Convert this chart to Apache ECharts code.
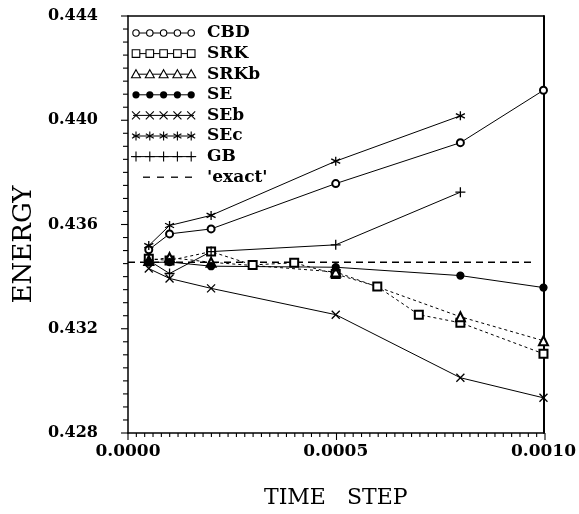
<!DOCTYPE html>
<html>
<head>
<meta charset="utf-8">
<script src="https://cdn.jsdelivr.net/npm/echarts@6/dist/echarts.min.js"></script>
<style>
  html, body { margin: 0; padding: 0; background: #fff; }
  #chart_div { width: 579px; height: 514px; }
</style>
</head>
<body>
<div id="chart_div"></div>
<script>
// 时间步长
var stepMain = [0.00005, 0.0001, 0.0002, 0.0005, 0.0008, 0.001]
var stepShort = [0.00005, 0.0001, 0.0002, 0.0005, 0.0008]
var stepSRK = [0.00005, 0.0001, 0.0002, 0.0003, 0.0004, 0.0005, 0.0006, 0.0007, 0.0008, 0.001]
var stepExact = [0, 0.00098]

// 能量数值
var cbd = [0.43503, 0.43564, 0.43583, 0.43757, 0.43914, 0.44115]
var srk = [0.43469, 0.43462, 0.43496, 0.43445, 0.43453, 0.43410, 0.43362, 0.43254, 0.43223, 0.43104]
var srkb = [0.43462, 0.43473, 0.43455, 0.43418, 0.43246, 0.43154]
var se = [0.43454, 0.43456, 0.43440, 0.43436, 0.43404, 0.43358]
var seb = [0.43431, 0.43393, 0.43355, 0.43254, 0.43012, 0.42935]
var sec = [0.43519, 0.43596, 0.43635, 0.43843, 0.44017]
var gb = [0.43462, 0.43412, 0.43496, 0.43522, 0.43724]
var exact = [0.43455, 0.43455]

var names = ['CBD', 'SRK', 'SRKb', 'SE', 'SEb', 'SEc', 'GB', "'exact'"]

var serif = 'DejaVu Serif'
var pathCross = 'path://M0,0L10,10M10,0L0,10'
var pathStar = 'path://M5,0L5,10M0.7,2.5L9.3,7.5M9.3,2.5L0.7,7.5'
var pathPlus = 'path://M5,0L5,10M0,5L10,5'

// 绘图区与坐标范围
var W = 579, H = 514
var gridBox = { left: 128, top: 16, right: 34, bottom: 81 }
var xMin = 0, xMax = 0.001
var yMin = 0.428, yMax = 0.444

function pairs(xs, ys) {
  let result = []
  for (let i = 0; i < xs.length; i++) {
    result.push([xs[i], ys[i]])
  }
  return result
}

function mkSeries(name, xs, ys, symbol, size, dash) {
  return {
    name: name,
    type: 'line',
    data: pairs(xs, ys),
    symbol: symbol,
    symbolSize: size,
    showSymbol: symbol != 'none',
    lineStyle: { color: '#000', width: 1, type: dash || 'solid' },
    itemStyle: { color: '#000', borderColor: '#000', borderWidth: 1.3 },
    silent: true,
    animation: false,
    z: 3
  }
}

// 图例 (手绘: 线 + 五个标记)
var legendKinds = ['circle', 'rect', 'triangle', 'dot', 'cross', 'star', 'plus', 'dash']

function legendMarker(kind, cx, cy) {
  let st = { fill: '#fff', stroke: '#000', lineWidth: 1.1 }
  let ln = { stroke: '#000', lineWidth: 1.1 }
  if (kind == 'circle') return [{ type: 'circle', shape: { cx: cx, cy: cy, r: 3.2 }, style: st }]
  if (kind == 'dot') return [{ type: 'circle', shape: { cx: cx, cy: cy, r: 3.6 }, style: { fill: '#000' } }]
  if (kind == 'rect') return [{ type: 'rect', shape: { x: cx - 3.8, y: cy - 3.8, width: 7.6, height: 7.6 }, style: st }]
  if (kind == 'triangle') return [{ type: 'polygon', shape: { points: [[cx, cy - 4.5], [cx + 4.5, cy + 3.5], [cx - 4.5, cy + 3.5]] }, style: st }]
  if (kind == 'cross') return [
    { type: 'line', shape: { x1: cx - 4, y1: cy - 4, x2: cx + 4, y2: cy + 4 }, style: ln },
    { type: 'line', shape: { x1: cx + 4, y1: cy - 4, x2: cx - 4, y2: cy + 4 }, style: ln }
  ]
  if (kind == 'star') return [
    { type: 'line', shape: { x1: cx, y1: cy - 4.5, x2: cx, y2: cy + 4.5 }, style: ln },
    { type: 'line', shape: { x1: cx - 4, y1: cy - 2.3, x2: cx + 4, y2: cy + 2.3 }, style: ln },
    { type: 'line', shape: { x1: cx + 4, y1: cy - 2.3, x2: cx - 4, y2: cy + 2.3 }, style: ln }
  ]
  if (kind == 'plus') return [
    { type: 'line', shape: { x1: cx, y1: cy - 5, x2: cx, y2: cy + 5 }, style: ln },
    { type: 'line', shape: { x1: cx - 5, y1: cy, x2: cx + 5, y2: cy }, style: ln }
  ]
  return []
}

function buildLegend() {
  let els = []
  for (let i = 0; i < names.length; i++) {
    let cy = 33 + 20.6 * i
    let kind = legendKinds[i]
    if (kind == 'dash') {
      els.push({ type: 'line', shape: { x1: 143, y1: cy, x2: 195, y2: cy }, style: { stroke: '#000', lineWidth: 1.3, lineDash: [7, 7] } })
    } else {
      els.push({ type: 'line', shape: { x1: 133, y1: cy, x2: 194, y2: cy }, style: { stroke: '#000', lineWidth: 1 } })
      for (let k = 0; k < 5; k++) {
        els = els.concat(legendMarker(kind, 136 + 13.8 * k, cy))
      }
    }
    els.push({
      type: 'text',
      x: 207,
      y: cy,
      style: { text: names[i], font: 'bold 17px "' + serif + '"', fill: '#000', verticalAlign: 'middle' }
    })
  }
  return els
}

// 刻度线 (x 每 0.00002, y 每 0.0005), 按坐标范围换算到绘图区
function buildTicks() {
  let els = []
  let left = gridBox.left
  let bottom = H - gridBox.bottom
  let w = W - gridBox.left - gridBox.right
  let h = H - gridBox.top - gridBox.bottom
  for (let i = 0; i <= 50; i++) {
    let px = left + (i * 0.00002 - xMin) / (xMax - xMin) * w
    let len = i % 25 == 0 ? 7 : 4
    els.push({ type: 'line', z: 50, silent: true, shape: { x1: px, y1: bottom, x2: px, y2: bottom + len }, style: { stroke: '#000', lineWidth: 1.1 } })
  }
  for (let i = 0; i <= 32; i++) {
    let py = bottom - (i * 0.0005) / (yMax - yMin) * h
    let len = i % 8 == 0 ? 7 : 5
    els.push({ type: 'line', z: 50, silent: true, shape: { x1: left, y1: py, x2: left - len, y2: py }, style: { stroke: '#000', lineWidth: 1.1 } })
  }
  return els
}

// 边框用的副坐标轴
function frameAxis(pos, min, max) {
  return {
    type: 'value', position: pos, min: min, max: max,
    axisLine: { show: true, onZero: false, lineStyle: { color: '#000', width: pos == 'right' ? 2 : 1.5 } },
    axisTick: { show: false }, axisLabel: { show: false }, splitLine: { show: false }
  }
}

var option = {
  backgroundColor: '#fff',
  animation: false,
  grid: gridBox,
  xAxis: [{
    type: 'value',
    position: 'bottom',
    min: xMin, max: xMax, interval: 0.0005,
    name: 'TIME   STEP',
    nameLocation: 'middle',
    nameGap: 54,
    nameTextStyle: { fontFamily: serif, fontSize: 22, color: '#000' },
    axisLine: { show: true, onZero: false, lineStyle: { color: '#000', width: 1.5 } },
    axisTick: { show: false },
    splitLine: { show: false },
    axisLabel: {
      margin: 10, fontFamily: serif, fontWeight: 'bold', fontSize: 17, color: '#000',
      formatter: function (v) { return v.toFixed(4) }
    }
  }, frameAxis('top', xMin, xMax)],
  yAxis: [{
    type: 'value',
    position: 'left',
    min: yMin, max: yMax, interval: 0.004,
    name: 'ENERGY',
    nameLocation: 'middle',
    nameGap: 80,
    nameTextStyle: { fontFamily: serif, fontSize: 26, color: '#000', padding: [0, 40, 0, 0] },
    axisLine: { show: true, onZero: false, lineStyle: { color: '#000', width: 1.5 } },
    axisTick: { show: false },
    splitLine: { show: false },
    axisLabel: {
      margin: 30, fontFamily: serif, fontWeight: 'bold', fontSize: 16, color: '#000',
      formatter: function (v) { return v.toFixed(3) }
    }
  }, frameAxis('right', yMin, yMax)],
  graphic: buildLegend().concat(buildTicks()),
  series: [
    Object.assign(mkSeries("'exact'", stepExact, exact, 'none', 0, [6, 5]), { z: 2, lineStyle: { color: '#000', width: 1.4, type: [7, 5] } }),
    mkSeries('CBD', stepMain, cbd, 'emptyCircle', 7),
    mkSeries('SRK', stepSRK, srk, 'emptyRect', 8, [3, 3]),
    mkSeries('SRKb', stepMain, srkb, 'emptyTriangle', 9, [3, 3]),
    mkSeries('SE', stepMain, se, 'circle', 7),
    mkSeries('SEb', stepMain, seb, pathCross, 8),
    mkSeries('SEc', stepShort, sec, pathStar, 9),
    mkSeries('GB', stepShort, gb, pathPlus, 10)
  ]
}

var myChart = echarts.init(document.getElementById('chart_div'))
myChart.setOption(option)
</script>
</body>
</html>
